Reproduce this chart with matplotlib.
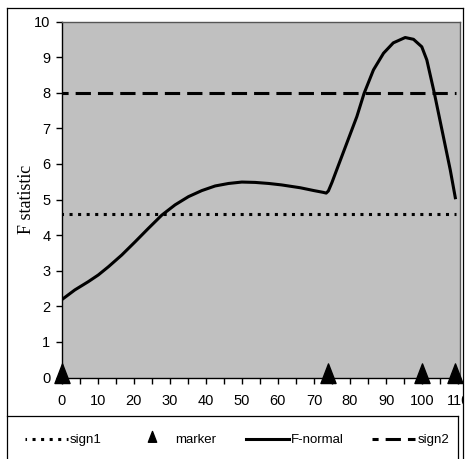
import matplotlib
matplotlib.use("Agg")
import matplotlib.pyplot as plt
from matplotlib.lines import Line2D
from matplotlib.path import Path
from matplotlib.transforms import Bbox
import numpy as np

# ---- data ----
x_normal = [0, 3.7, 7.4, 10.2, 13.0, 16.7, 20.4, 24.1, 27.8, 31.5, 35.2, 38.9,
            42.6, 46.3, 50.0, 53.7, 57.5, 61.0, 66.2, 70.0, 72.6, 73.4, 74.0,
            75.0, 76.3, 79.1, 81.9, 83.9, 86.5, 89.3, 92.0, 95.3, 97.6, 99.9,
            101.3, 103.4, 105.9, 107.8, 109.2]
f_normal = [2.18, 2.46, 2.69, 2.88, 3.11, 3.44, 3.81, 4.19, 4.56, 4.85, 5.08, 5.25,
            5.38, 5.45, 5.49, 5.48, 5.45, 5.41, 5.33, 5.25, 5.20, 5.18, 5.24,
            5.48, 5.83, 6.58, 7.33, 7.98, 8.64, 9.11, 9.40, 9.55, 9.50, 9.29,
            8.92, 7.98, 6.76, 5.83, 5.05]

sign_x = [0, 109.5]
sign1 = [4.6, 4.6]
sign2 = [8.0, 8.0]

marker_x = [0, 74, 100, 109.2]
marker_y = [0, 0, 0, 0]

x_ticks = list(range(0, 111, 10))
y_ticks = list(range(0, 11))

# ---- style ----
SANS = ['Liberation Sans', 'DejaVu Sans']
plt.rcParams['font.family'] = SANS

W, H = 468, 459
fig = plt.figure(figsize=(W / 100, H / 100), dpi=100)
ax = fig.add_axes([61.5 / W, 1 - 377.5 / H, (460 - 61.5) / W, (377.5 - 21.5) / H])
ax.set_facecolor('#C0C0C0')

lw = 2.2
# triangle marker sitting mostly above its point
tri = Path([(0, 14.5), (-7.5, -5), (7.5, -5), (0, 14.5)],
           [Path.MOVETO, Path.LINETO, Path.LINETO, Path.CLOSEPOLY])

ax.plot(sign_x, sign1, color='black', lw=lw, linestyle=(0.5, (1, 1.8)),
        dash_capstyle='butt', label='sign1', zorder=3)
ax.plot(marker_x, marker_y, linestyle='none', marker=tri, markersize=21,
        color='black', clip_on=False, label='marker', zorder=6)
ax.plot(x_normal, f_normal, color='black', lw=lw, solid_joinstyle='round',
        label='F-normal', zorder=4)
ax.plot(sign_x, sign2, color='black', lw=lw, linestyle=(3, (5, 2.3)),
        dash_capstyle='butt', label='sign2', zorder=3)

ax.set_xlim(0, 110.5)
ax.set_ylim(0, 10)
ax.set_xticks(x_ticks)
ax.set_xticks(np.arange(5, 111, 10), minor=True)
ax.set_yticks(y_ticks)
ax.tick_params(axis='x', which='both', direction='out', length=4, width=1,
               pad=8, labelsize=10.5)
ax.tick_params(axis='y', direction='out', length=4.5, width=1, pad=3.5,
               labelsize=10.5)

for side in ('top', 'right'):
    ax.spines[side].set_color('#555555')
    ax.spines[side].set_linewidth(1)
for side in ('left', 'bottom'):
    ax.spines[side].set_color('black')
    ax.spines[side].set_linewidth(1)

ax.set_ylabel('F statistic', family=['Liberation Serif', 'DejaVu Serif'],
              fontsize=13)
ax.yaxis.set_label_coords(-0.066, 0.5)

# clip tick labels to the chart border
clip = Bbox([[0, 0], [462.5, H]])
fig.canvas.draw()
for lab in ax.get_xticklabels():
    lab.set_clip_box(clip)
    lab.set_clip_on(True)

# chart border and legend box
def fig_line(xs, ys, **kw):
    fig.add_artist(Line2D([x / W for x in xs], [1 - y / H for y in ys],
                          transform=fig.transFigure, color='black', lw=0.9, **kw))

fig_line([7.5, 462.5], [7.5, 7.5])
fig_line([7.5, 7.5], [7.5, H])
fig_line([462.5, 462.5], [7.5, H])
fig_line([7.5, 457.5], [415.5, 415.5])
fig_line([457.5, 457.5], [415.5, H])

handles, labels = ax.get_legend_handles_labels()
fig.legend(handles, labels, loc='center left', bbox_to_anchor=(25 / W, 1 - 440 / H),
           ncol=4, frameon=False, borderpad=0, borderaxespad=0,
           handlelength=3.25, handletextpad=0.15, columnspacing=2.2,
           fontsize=9.5, markerscale=0.55)

fig.savefig('out.png', dpi=100)
